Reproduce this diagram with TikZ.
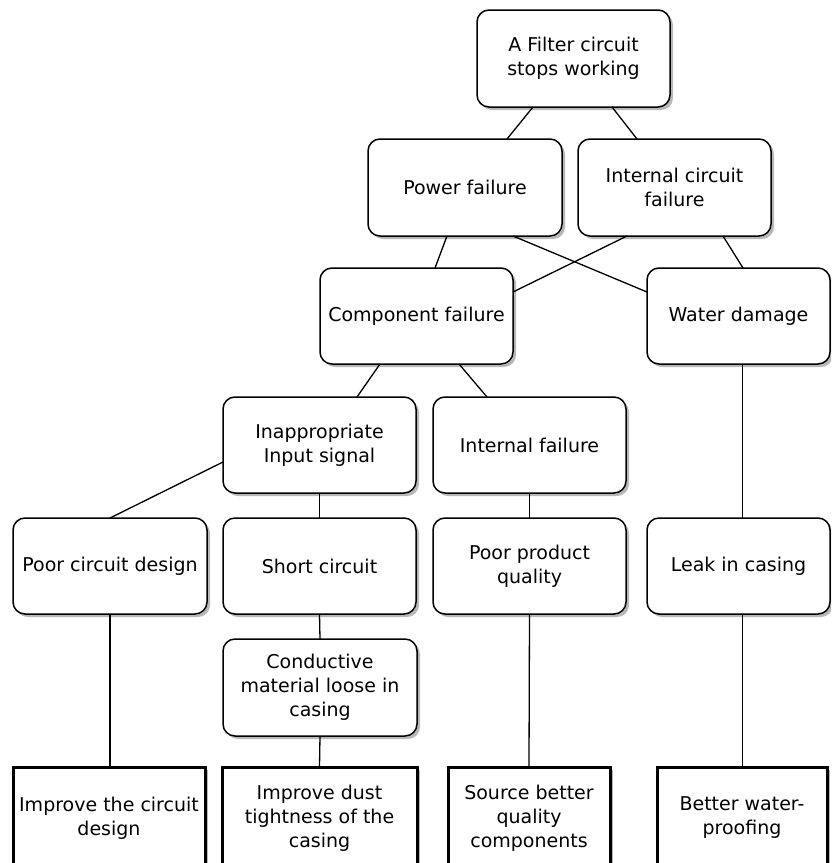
\documentclass[tikz,border=0pt]{standalone}
\usepackage{fontspec}
\setmainfont{DejaVu Sans}
\usetikzlibrary{shadows,backgrounds}

\tikzset{
  boxsize/.style 2 args={minimum width=#1pt, minimum height=#2pt},
  cause/.style={draw=black, fill=white, line width=1.5pt, rounded corners=12pt,
    align=center, inner sep=1pt, outer sep=0pt,
    font=\fontsize{19}{24}\selectfont,
    drop shadow={shadow xshift=3pt, shadow yshift=-3pt, fill=black!28, opacity=1}},
  remedy/.style={draw=black, fill=white, line width=3pt,
    align=center, inner sep=1pt, outer sep=0pt,
    font=\fontsize{19}{24}\selectfont,
    drop shadow={shadow xshift=3pt, shadow yshift=-3pt, fill=black!28, opacity=1}},
  link/.style={draw=black, line width=1.3pt}
}

\begin{document}
\begin{tikzpicture}[x=1pt, y=-1pt]
  \useasboundingbox (0,0) rectangle (831,863);
  \clip (0,0) rectangle (831,863);
  \fill[white] (0,0) rectangle (831,863);

  % fault tree: causes
  \node[cause, boxsize={193}{97}] (top)   at (573.5,58.5) {A Filter circuit\\stops working};
  \node[cause, boxsize={194}{97}] (power) at (465,187.5)  {Power failure};
  \node[cause, boxsize={193}{97}] (intc)  at (674.5,187.5) {Internal circuit\\failure};
  \node[cause, boxsize={193}{96}] (comp)  at (416.5,316)  {Component failure};
  \node[cause, boxsize={183}{96}] (water) at (738.5,316)  {Water damage};
  \node[cause, boxsize={193}{96}] (inapp) at (319.5,445)  {Inappropriate\\Input signal};
  \node[cause, boxsize={193}{96}] (intf)  at (529.5,445)  {Internal failure};
  \node[cause, boxsize={194}{96}] (poor)  at (110,566)    {Poor circuit design};
  \node[cause, boxsize={193}{96}] (short) at (319.5,566)  {Short circuit};
  \node[cause, boxsize={193}{96}] (prod)  at (529.5,566)  {Poor product\\quality};
  \node[cause, boxsize={183}{96}] (leak)  at (738.5,566)  {Leak in casing};
  \node[cause, boxsize={194}{97}] (cond)  at (320,687.5)  {Conductive\\material loose in\\casing};

  % remedies
  \node[remedy, boxsize={192}{102}] (fixdesign) at (109,818)   {Improve the circuit\\design};
  \node[remedy, boxsize={195}{102}] (fixdust)   at (319.5,818) {Improve dust\\tightness of the\\casing};
  \node[remedy, boxsize={162}{102}] (fixsource) at (529,818)   {Source better\\quality\\components};
  \node[remedy, boxsize={170}{102}] (fixwater)  at (742,818)   {Better water-\\proofing};

  % connectors
  \draw[link] ([xshift=-40.5pt]top.south) -- ([xshift=42pt]power.north);
  \draw[link] ([xshift=38.5pt]top.south) -- ([xshift=-37.5pt]intc.north);
  \draw[link] ([xshift=-18pt]power.south) -- ([xshift=18.5pt]comp.north);
  \draw[link] ([xshift=48pt]power.south) -- ([yshift=24pt]water.west);
  \draw[link] ([xshift=-47.5pt]intc.south) -- ([yshift=24pt]comp.east);
  \draw[link] ([xshift=48.5pt]intc.south) -- ([xshift=4.5pt]water.north);
  \draw[link] ([xshift=4pt]water.south) -- ([xshift=4pt]leak.north);
  \draw[link] ([xshift=4pt]leak.south) -- ([xshift=0.5pt]fixwater.north);
  \draw[link] ([xshift=-36.5pt]comp.south) -- ([xshift=37.5pt]inapp.north);
  \draw[link] ([xshift=42.5pt]comp.south) -- ([xshift=-42.5pt]intf.north);
  \draw[link] ([yshift=-17pt]inapp.west) -- (poor.north);
  \draw[link] (inapp.south) -- (short.north);
  \draw[link] (short.south) -- (cond.north);
  \draw[link] (cond.south) -- (fixdust.north);
  \draw[link] (intf.south) -- (prod.north);
  \draw[link] (prod.south) -- (fixsource.north);
  \draw[link] (poor.south) -- ([xshift=1pt]fixdesign.north);
\end{tikzpicture}
\end{document}
